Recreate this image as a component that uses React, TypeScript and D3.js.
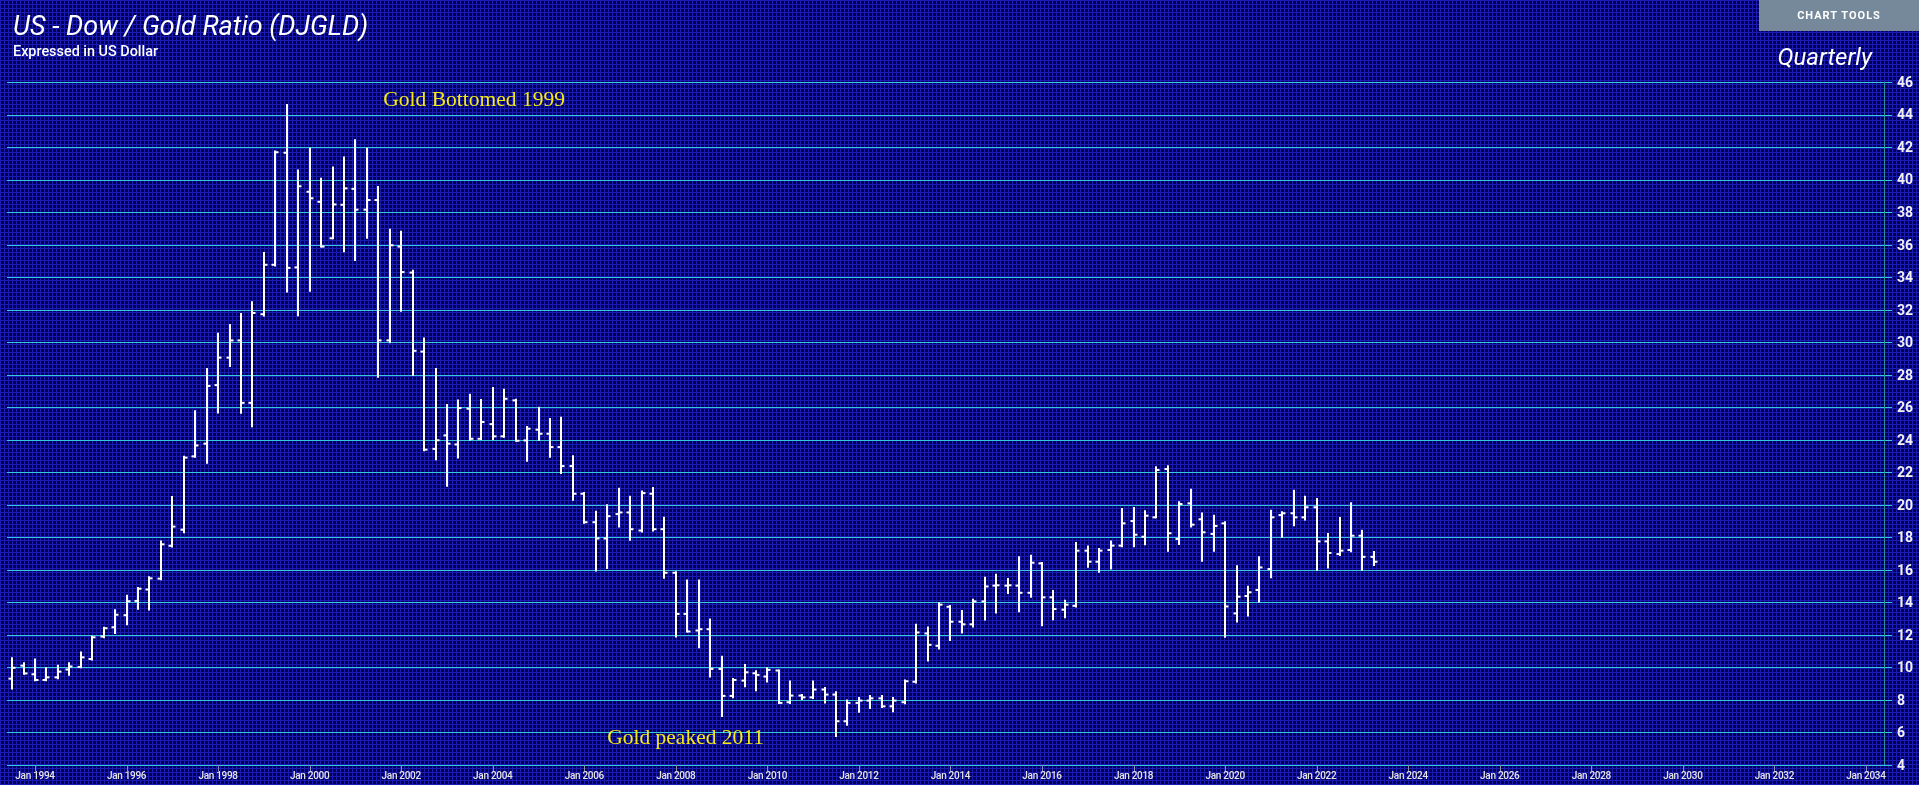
import React, { useEffect } from "react";
import * as d3 from "d3";

const W = 1919;
const H = 785;

// quarterly bars, first = Jul 1993 (Q3 1993)
const quarters = [
  "1993Q3","1993Q4",
  "1994Q1","1994Q2","1994Q3","1994Q4","1995Q1","1995Q2","1995Q3","1995Q4",
  "1996Q1","1996Q2","1996Q3","1996Q4","1997Q1","1997Q2","1997Q3","1997Q4",
  "1998Q1","1998Q2","1998Q3","1998Q4","1999Q1","1999Q2","1999Q3","1999Q4",
  "2000Q1","2000Q2","2000Q3","2000Q4","2001Q1","2001Q2","2001Q3","2001Q4",
  "2002Q1","2002Q2","2002Q3","2002Q4","2003Q1","2003Q2","2003Q3","2003Q4",
  "2004Q1","2004Q2","2004Q3","2004Q4","2005Q1","2005Q2","2005Q3","2005Q4",
  "2006Q1","2006Q2","2006Q3","2006Q4","2007Q1","2007Q2","2007Q3","2007Q4",
  "2008Q1","2008Q2","2008Q3","2008Q4","2009Q1","2009Q2","2009Q3","2009Q4",
  "2010Q1","2010Q2","2010Q3","2010Q4","2011Q1","2011Q2","2011Q3","2011Q4",
  "2012Q1","2012Q2","2012Q3","2012Q4","2013Q1","2013Q2","2013Q3","2013Q4",
  "2014Q1","2014Q2","2014Q3","2014Q4","2015Q1","2015Q2","2015Q3","2015Q4",
  "2016Q1","2016Q2","2016Q3","2016Q4","2017Q1","2017Q2","2017Q3","2017Q4",
  "2018Q1","2018Q2","2018Q3","2018Q4","2019Q1","2019Q2","2019Q3","2019Q4",
  "2020Q1","2020Q2","2020Q3","2020Q4","2021Q1","2021Q2","2021Q3","2021Q4",
  "2022Q1","2022Q2","2022Q3","2022Q4","2023Q1","2023Q2",
];

const opens = [
  9.31,10.11,
  9.58,9.23,9.39,9.87,10.03,10.52,11.90,12.47,
  13.21,14.09,14.79,15.46,17.48,18.47,22.98,23.76,
  27.36,29.05,30.11,26.27,31.72,34.76,41.65,34.60,
  39.25,38.63,36.39,38.45,39.43,38.15,38.74,30.11,
  35.88,34.28,29.42,23.44,24.27,23.71,25.91,24.06,
  24.96,24.21,26.42,23.96,24.62,24.37,23.55,22.38,
  20.68,18.93,17.93,19.43,19.53,18.42,20.68,18.50,
  15.82,13.29,12.27,12.35,9.91,8.25,9.19,9.64,
  9.44,9.81,7.86,8.27,8.16,8.64,8.33,6.69,
  7.82,7.96,8.10,7.61,7.86,9.12,12.09,11.33,
  13.73,12.81,12.65,14.06,15.03,15.03,15.03,14.59,
  16.40,14.31,13.55,13.79,17.18,16.50,17.22,17.49,
  19.00,18.04,19.23,22.20,17.90,20.09,19.11,18.21,
  18.86,13.32,14.39,14.76,16.05,19.37,19.48,19.23,
  19.85,17.75,16.97,17.22,18.10,16.80,
];
const highs = [
  10.57,10.25,
  10.49,9.95,10.11,10.25,10.92,11.88,12.44,13.51,
  14.41,14.89,15.54,17.75,20.48,22.96,25.76,28.35,
  30.52,31.05,31.74,32.46,35.48,41.73,44.59,40.56,
  41.89,40.05,40.74,41.36,42.42,41.89,39.54,36.92,
  36.79,34.39,30.22,28.35,26.14,26.42,26.77,26.44,
  27.18,27.08,26.46,24.78,25.97,25.27,25.35,22.99,
  20.72,19.57,19.98,20.98,20.49,20.82,21.03,19.20,
  15.86,15.34,15.34,12.94,10.65,9.29,10.15,9.76,
  9.95,9.81,9.13,8.31,9.13,8.74,8.47,7.96,
  8.12,8.25,8.25,8.12,9.19,12.63,12.46,13.94,
  13.77,13.47,14.16,15.52,15.70,15.44,16.77,16.87,
  16.42,14.70,14.10,17.65,17.43,17.28,17.75,19.74,
  19.81,19.60,22.31,22.37,20.15,20.93,19.46,19.33,
  18.92,16.22,14.96,16.77,19.64,19.54,20.87,20.50,
  20.36,18.21,19.19,20.09,18.40,17.10,
];
const lows = [
  8.70,9.61,
  9.21,9.21,9.34,9.55,10.01,10.49,11.85,12.12,
  12.65,13.61,13.56,15.43,17.43,18.31,22.96,22.58,
  25.68,28.54,25.66,24.83,31.64,34.71,33.11,31.66,
  33.16,35.88,36.39,35.59,35.05,36.42,27.87,30.00,
  31.93,27.98,23.36,22.80,21.17,22.91,24.02,24.04,
  24.04,24.18,23.94,22.71,24.00,22.95,21.95,20.31,
  18.89,15.96,16.12,18.67,17.85,18.36,18.42,15.51,
  11.90,12.21,11.24,9.44,7.02,8.16,8.84,8.59,
  9.13,7.82,7.82,8.06,8.12,7.84,5.78,6.48,
  7.28,7.51,7.57,7.30,7.79,9.08,10.43,11.17,
  11.68,12.15,12.52,12.95,13.38,14.57,13.45,14.35,
  12.60,12.97,13.08,13.75,16.19,15.89,16.09,17.45,
  17.45,17.57,19.23,17.18,17.59,18.66,16.56,17.18,
  11.89,12.83,13.20,14.06,15.54,18.04,18.74,19.09,
  16.01,16.15,16.91,17.14,16.00,16.30,
];
const closes = [
  9.98,9.63,
  9.23,9.39,9.74,10.06,10.62,11.85,12.41,13.24,
  14.07,14.84,15.48,17.57,18.66,22.90,23.65,27.31,
  29.05,30.11,26.27,31.80,34.76,41.68,34.57,39.59,
  38.85,35.88,38.47,39.46,38.15,38.74,30.11,35.96,
  34.31,29.47,23.39,23.97,23.76,25.95,24.06,25.09,
  24.21,26.52,23.94,24.68,24.37,23.55,22.38,20.68,
  18.93,17.93,19.30,19.53,18.50,20.72,18.50,15.82,
  13.29,12.21,12.35,9.91,8.25,9.23,9.70,9.54,
  9.85,7.82,8.27,8.16,8.64,8.33,6.69,7.82,
  7.96,8.10,7.61,7.96,9.15,12.15,11.39,13.86,
  12.81,12.65,14.06,14.98,15.05,15.05,14.59,16.44,
  14.31,13.59,13.86,17.18,16.50,17.18,17.49,18.86,
  18.16,19.33,22.14,18.25,20.05,18.78,18.31,18.70,
  13.75,14.35,14.62,16.15,19.23,19.48,19.23,19.85,
  17.75,17.04,17.18,18.10,16.80,16.50,
];

const yTicks = [4,6,8,10,12,14,16,18,20,22,24,26,28,30,32,34,36,38,40,42,44,46];
const xTickYears = [1994,1996,1998,2000,2002,2004,2006,2008,2010,2012,2014,2016,2018,2020,2022,2024,2026,2028,2030,2032,2034];

const annotations = [
  { text: "Gold Bottomed 1999", year: 2001.61, value: 44.55 },
  { text: "Gold peaked 2011", year: 2006.5, value: 5.32 },
];

function qToYear(q: string) {
  const y = +q.slice(0, 4);
  const n = +q.slice(5);
  return y + (n - 1) * 0.25;
}

export default function App() {
  useEffect(() => {
    document.body.style.margin = "0";
    document.body.style.background = "#00004e";
  }, []);

  const x = d3.scaleLinear().domain([1993.388, 2034.394]).range([7, 1884]);
  const y = d3.scaleLinear().domain([4, 46]).range([765, 82]);

  const bars = quarters.map((q, i) => ({
    t: qToYear(q),
    o: opens[i],
    h: highs[i],
    l: lows[i],
    c: closes[i],
  }));

  return (
    <svg width={W} height={H} style={{ display: "block", position: "fixed", left: 0, top: 0 }}>
      <defs>
        <pattern id="bggrid" width={4} height={4} patternUnits="userSpaceOnUse">
          <rect width={4} height={4} fill="#00004e" />
          <rect x={0} y={0} width={4} height={1} fill="#1a1ab4" />
          <rect x={0} y={0} width={1} height={4} fill="#1a1ab4" />
        </pattern>
      </defs>
      <rect x={0} y={0} width={W} height={H} fill="url(#bggrid)" />

      {/* horizontal grid */}
      {yTicks.map((v) => (
        <line key={"g" + v} x1={7} x2={1892} y1={Math.round(y(v)) + 0.5} y2={Math.round(y(v)) + 0.5}
          stroke="#34c8dc" strokeWidth={1} />
      ))}
      {/* right axis line */}
      <line x1={1884.5} x2={1884.5} y1={y(46)} y2={y(4)} stroke="#2a93a6" strokeWidth={1} />
      {yTicks.map((v) => (
        <text key={"yl" + v} x={1897} y={y(v)} dy="0.35em" fill="#f2f2f2"
          fontFamily="Roboto, 'Open Sans', sans-serif" fontWeight={700} fontSize={14}>{v}</text>
      ))}

      {/* x axis ticks */}
      {xTickYears.map((yr) => (
        <g key={"x" + yr}>
          <line x1={Math.round(x(yr)) + 0.5} x2={Math.round(x(yr)) + 0.5} y1={765} y2={771} stroke="#8a8fb0" strokeWidth={1} />
          <text x={x(yr)} y={779} textAnchor="middle" fill="#e6e6e6"
            fontFamily="Roboto, sans-serif" fontWeight={500} fontSize={10} letterSpacing={-0.3}>{"Jan " + yr}</text>
        </g>
      ))}

      {/* OHLC bars */}
      <g stroke="#ffffff" strokeWidth={2} fill="none">
        {bars.map((b, i) => {
          const cx = Math.round(x(b.t));
          return (
            <g key={"b" + i}>
              <line x1={cx} x2={cx} y1={y(b.h) - 1} y2={y(b.l) + 1} />
              <line x1={cx - 3.5} x2={cx} y1={y(b.o)} y2={y(b.o)} />
              <line x1={cx} x2={cx + 3.5} y1={y(b.c)} y2={y(b.c)} />
            </g>
          );
        })}
      </g>

      {/* annotations */}
      {annotations.map((a) => (
        <text key={a.text} x={x(a.year)} y={y(a.value)} fill="#f6ec12"
          fontFamily="'Liberation Serif', 'DejaVu Serif', serif" fontSize={21.5}>{a.text}</text>
      ))}

      {/* titles */}
      <text x={13} y={35} fill="#ffffff" fontFamily="Roboto, sans-serif" fontStyle="italic" fontSize={27}>
        US - Dow / Gold Ratio (DJGLD)
      </text>
      <text x={13} y={56} fill="#ffffff" fontFamily="Roboto, sans-serif" fontWeight={500} fontSize={14.4}>
        Expressed in US Dollar
      </text>
      <text x={1872} y={65} textAnchor="end" fill="#ffffff" fontFamily="Roboto, sans-serif" fontStyle="italic" fontSize={24}>
        Quarterly
      </text>

      {/* chart tools button */}
      <rect x={1759} y={0} width={160} height={31} fill="#76899a" />
      <text x={1839} y={19} textAnchor="middle" fill="#ffffff" fontFamily="Roboto, sans-serif"
        fontWeight={700} fontSize={11} letterSpacing={1}>CHART TOOLS</text>
    </svg>
  );
}
